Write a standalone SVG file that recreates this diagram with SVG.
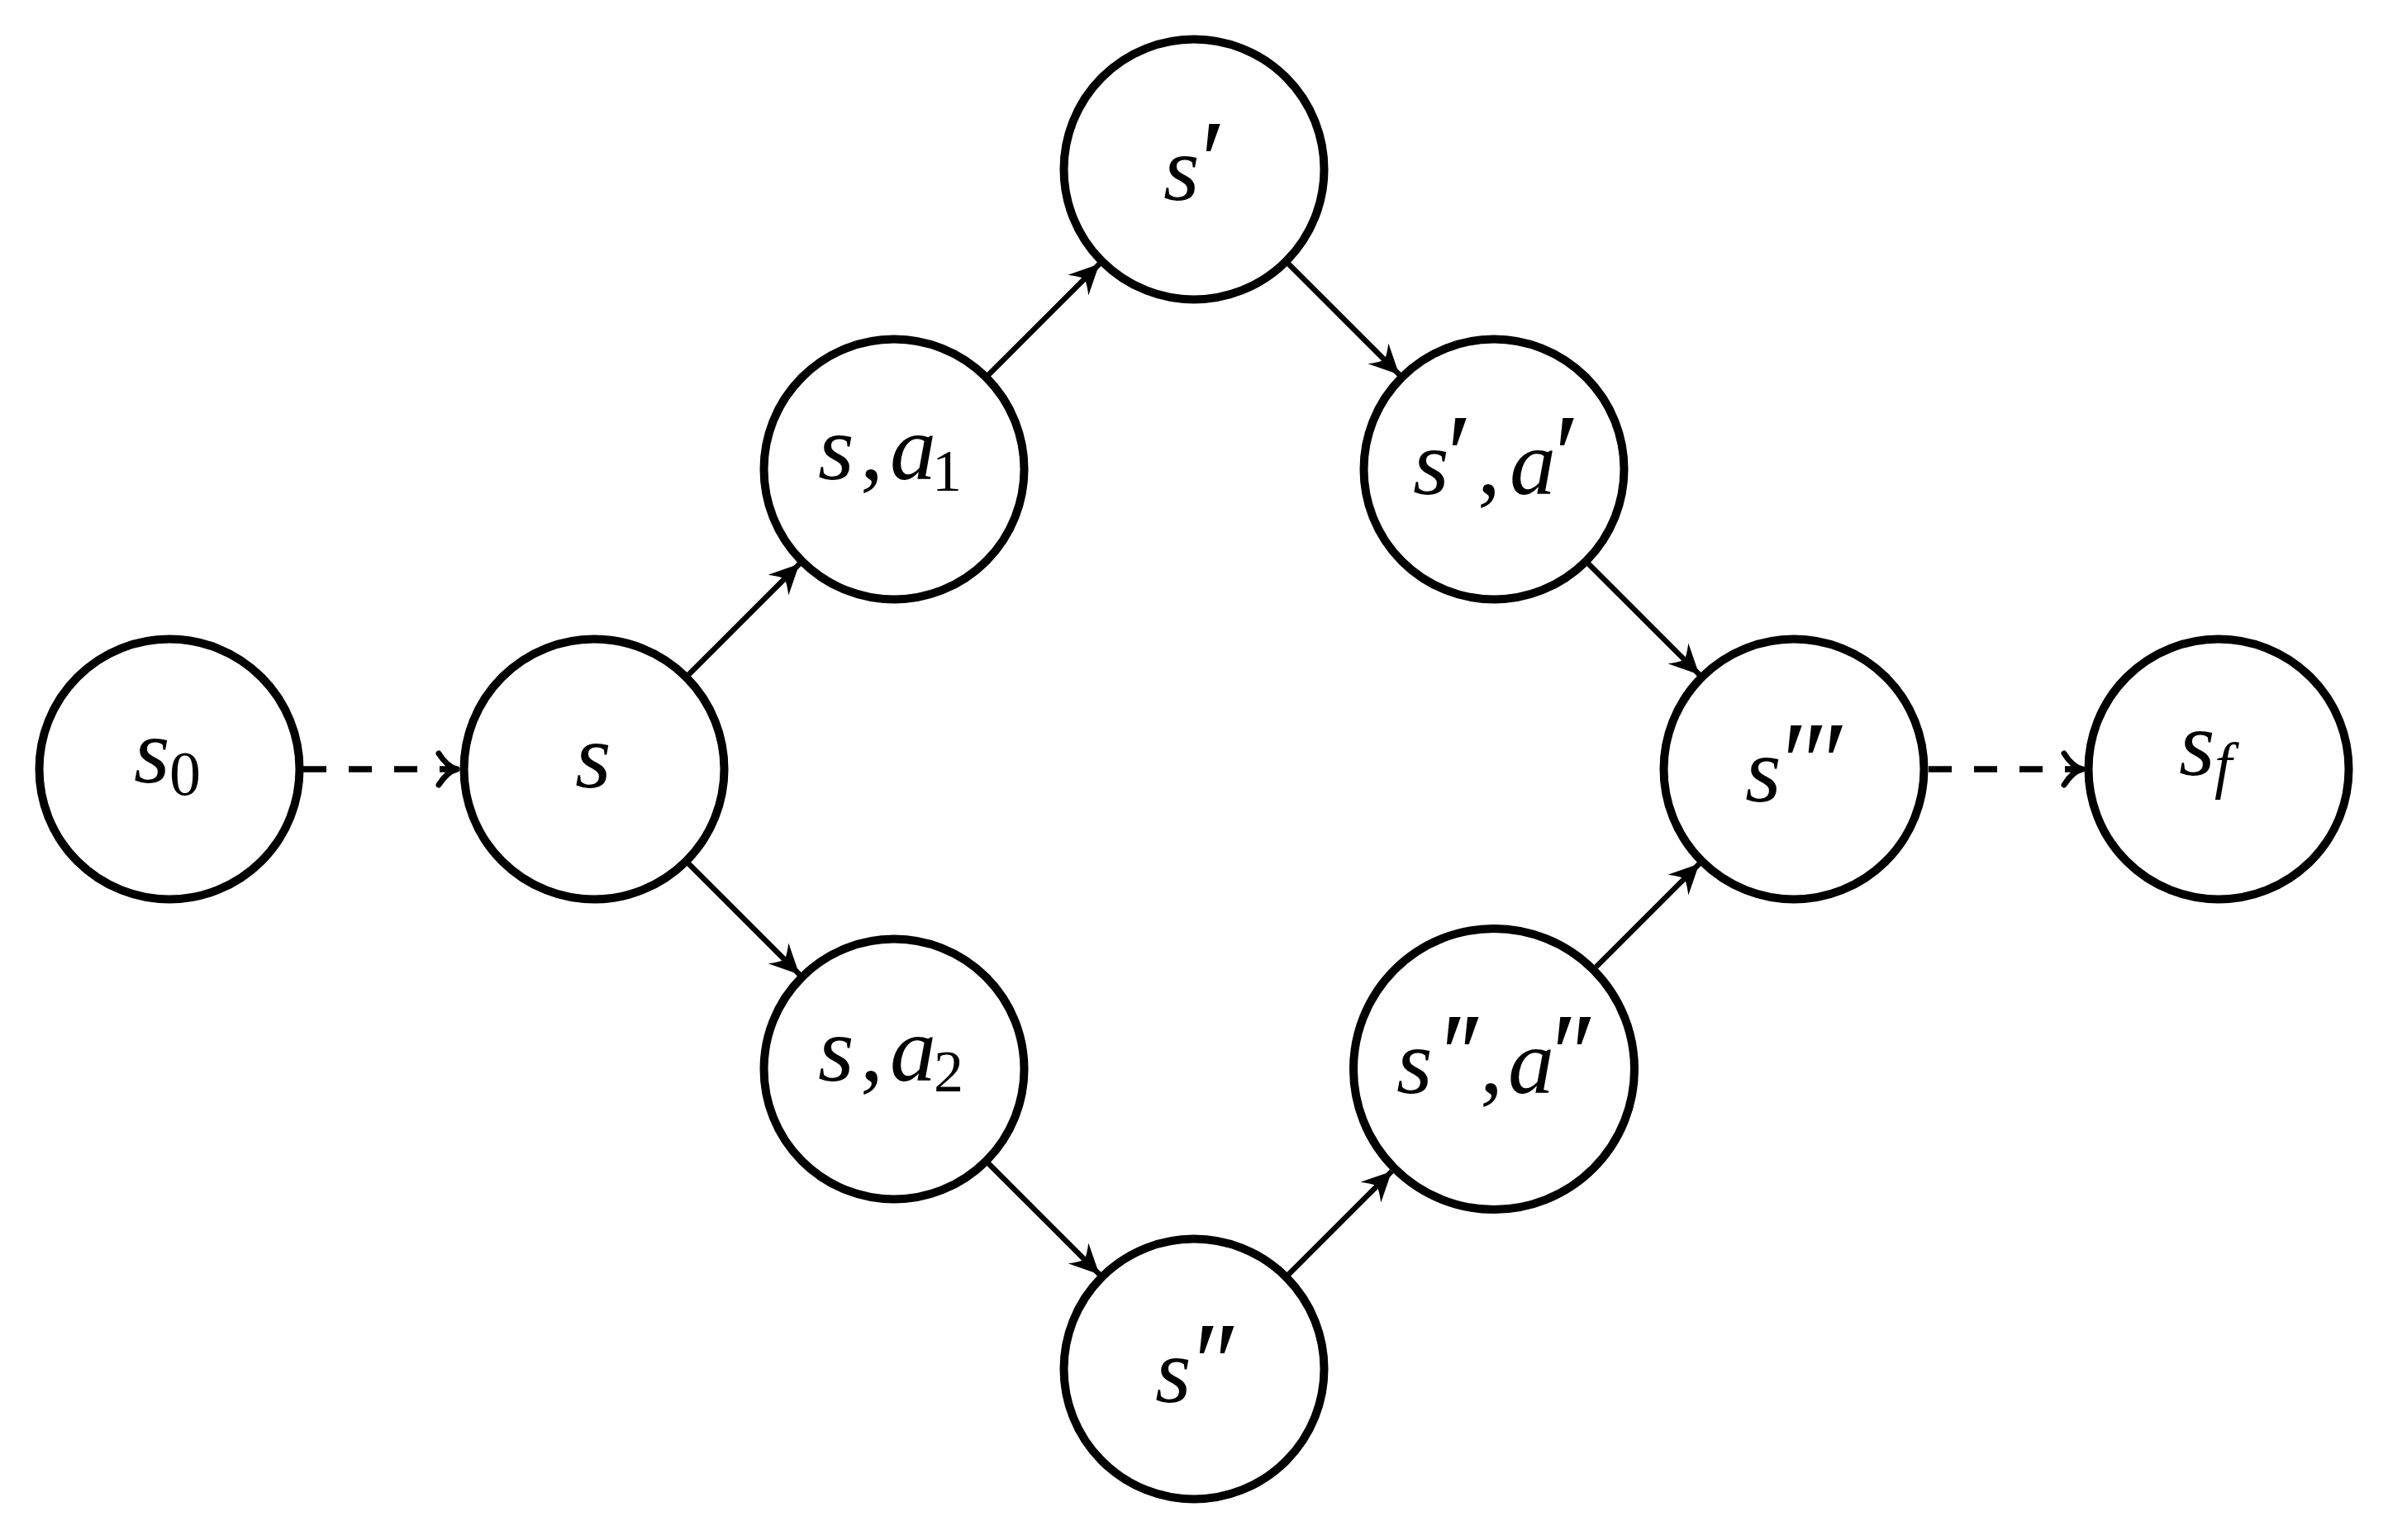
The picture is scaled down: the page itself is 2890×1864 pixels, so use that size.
<svg xmlns="http://www.w3.org/2000/svg" width="2890" height="1864" viewBox="0 0 2890 1864">
<defs>
<style>
.node{fill:#fff;stroke:#000;stroke-width:10}
.m{font-family:"Liberation Serif","DejaVu Serif",serif;font-style:italic;font-size:112px;fill:#000}
.up{font-style:normal}
.sub{font-style:normal;font-size:72px}
.sub0{font-style:normal;font-size:76px}
.subi{font-style:italic;font-size:76px}
.pr{font-style:normal;font-size:140px}
.edge{stroke:#000;stroke-width:6.5;fill:none}
.dash{stroke:#000;stroke-width:7.5;fill:none;stroke-dasharray:28 27}
</style>
<marker id="stealth" markerUnits="userSpaceOnUse" markerWidth="50" markerHeight="50" viewBox="-40 -25 45 50" refX="0" refY="0" orient="auto">
<path d="M0,0 L-36,-17.5 Q-28,-7 -25,0 Q-28,7 -36,17.5 Z" fill="#000"/>
</marker>
<marker id="to" markerUnits="userSpaceOnUse" markerWidth="50" markerHeight="60" viewBox="-30 -30 36 60" refX="0" refY="0" orient="auto">
<path d="M-22,-19 Q-12,-3 0,0 M-22,19 Q-12,3 0,0" fill="none" stroke="#000" stroke-width="7" stroke-linecap="round"/>
</marker>
</defs>
<rect width="2890" height="1864" fill="#fff"/>
<g id="connectors">
<line class="dash" x1="367" y1="931" x2="553" y2="931" marker-end="url(#to)"/>
<line class="dash" x1="2334" y1="931" x2="2520" y2="931" marker-end="url(#to)"/>
<line class="edge" x1="833.6" y1="816.4" x2="967.4" y2="682.6" marker-end="url(#stealth)"/>
<line class="edge" x1="833.6" y1="1045.6" x2="967.4" y2="1179.4" marker-end="url(#stealth)"/>
<line class="edge" x1="1196.6" y1="453.4" x2="1330.4" y2="319.6" marker-end="url(#stealth)"/>
<line class="edge" x1="1559.6" y1="319.6" x2="1693.4" y2="453.4" marker-end="url(#stealth)"/>
<line class="edge" x1="1922.6" y1="682.6" x2="2056.4" y2="816.4" marker-end="url(#stealth)"/>
<line class="edge" x1="1196.6" y1="1408.6" x2="1330.4" y2="1542.4" marker-end="url(#stealth)"/>
<line class="edge" x1="1559.6" y1="1542.4" x2="1684.3" y2="1417.7" marker-end="url(#stealth)"/>
<line class="edge" x1="1931.7" y1="1170.3" x2="2056.4" y2="1045.6" marker-end="url(#stealth)"/>
</g>
<g id="n-s0">
<circle class="node" cx="205" cy="931" r="157.5"/>
<text class="m"><tspan x="162" y="947">s</tspan><tspan class="sub0" x="205" y="962">0</tspan></text>
</g>
<g id="n-s">
<circle class="node" cx="719" cy="931" r="157.5"/>
<text class="m"><tspan x="696" y="953">s</tspan></text>
</g>
<g id="n-sa1">
<circle class="node" cx="1082" cy="568" r="157.5"/>
<text class="m"><tspan x="990" y="580">s</tspan><tspan class="up" x="1041" y="580">,</tspan><tspan x="1077" y="580">a</tspan><tspan class="sub" x="1128" y="594">1</tspan></text>
</g>
<g id="n-sp">
<circle class="node" cx="1445" cy="205" r="157.5"/>
<text class="m"><tspan x="1408" y="242">s</tspan><tspan class="pr" x="1453" y="242">′</tspan></text>
</g>
<g id="n-spap">
<circle class="node" cx="1808" cy="568" r="157.5"/>
<text class="m"><tspan x="1710" y="598">s</tspan><tspan class="pr" x="1751" y="598">′</tspan><tspan class="up" x="1788" y="598">,</tspan><tspan x="1827" y="598">a</tspan><tspan class="pr" x="1881" y="598">′</tspan></text>
</g>
<g id="n-sppp">
<circle class="node" cx="2171" cy="931" r="157.5"/>
<text class="m"><tspan x="2112" y="970">s</tspan><tspan class="pr" x="2157" y="970" style="letter-spacing:-6px">′′′</tspan></text>
</g>
<g id="n-sf">
<circle class="node" cx="2685" cy="931" r="157.5"/>
<text class="m"><tspan x="2637" y="938">s</tspan><tspan class="subi" x="2680" y="952">f</tspan></text>
</g>
<g id="n-sa2">
<circle class="node" cx="1082" cy="1294" r="157.5"/>
<text class="m"><tspan x="990" y="1308">s</tspan><tspan class="up" x="1041" y="1308">,</tspan><tspan x="1077" y="1308">a</tspan><tspan class="sub" x="1130" y="1321">2</tspan></text>
</g>
<g id="n-spp">
<circle class="node" cx="1445" cy="1657" r="157.5"/>
<text class="m"><tspan x="1398" y="1697">s</tspan><tspan class="pr" x="1445" y="1697" style="letter-spacing:-6px">′′</tspan></text>
</g>
<g id="n-sppapp">
<circle class="node" cx="1808" cy="1294" r="170"/>
<text class="m"><tspan x="1690" y="1323">s</tspan><tspan class="pr" x="1744" y="1323" style="letter-spacing:-9px">′′</tspan><tspan class="up" x="1791" y="1323">,</tspan><tspan x="1825" y="1323">a</tspan><tspan class="pr" x="1878" y="1323" style="letter-spacing:-7px">′′</tspan></text>
</g>
</svg>
